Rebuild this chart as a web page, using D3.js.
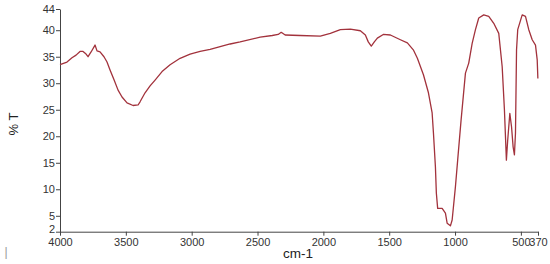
<!DOCTYPE html>
<html><head><meta charset="utf-8">
<script src="https://cdn.jsdelivr.net/npm/d3@7"></script>
<style>body{margin:0;background:#fff}svg{display:block}</style>
</head><body>
<svg id="c" width="550" height="264"></svg>
<script>
const wavenumber = [4000,3947,3909,3878,3848,3825,3802,3787,3764,3734,3719,3696,3666,3643,3620,3589,3559,3529,3491,3445,3407,3392,3354,3316,3278,3225,3164,3088,3012,2936,2860,2784,2708,2632,2480,2388,2343,2320,2290,2176,2023,1947,1871,1795,1719,1681,1659,1636,1613,1590,1545,1491,1415,1362,1317,1286,1240,1202,1174,1164,1149,1142,1132,1098,1073,1060,1035,1022,997,980,954,921,896,870,845,820,782,744,706,668,642,625,610,600,584,571,559,549,541,533,524,490,465,440,414,389,376,371];
const transmittance = [33.5,34.0,34.8,35.3,36.0,36.0,35.5,35.0,35.9,37.2,36.1,35.9,35.0,34.0,32.5,30.6,28.7,27.4,26.3,25.8,25.9,26.5,28.2,29.5,30.6,32.2,33.5,34.7,35.5,36.0,36.4,36.9,37.4,37.8,38.7,39.0,39.2,39.6,39.1,39.0,38.9,39.4,40.1,40.2,39.9,39.1,37.8,37.0,37.8,38.5,39.2,39.1,38.2,37.6,36.3,34.7,31.6,28.2,24.4,20.6,14.2,9.3,6.4,6.4,5.5,3.6,3.1,4.2,10.5,15.5,23.1,31.9,33.8,37.5,40.1,42.3,42.9,42.6,41.3,39.4,33.1,25.0,15.5,19.3,24.3,21.8,18.0,16.5,20.6,36.3,40.1,42.9,42.6,40.1,38.2,37.2,34.4,30.9];
const xTicks = [4000,3500,3000,2500,2000,1500,1000,500,370];
const yTicks = [2,5,10,15,20,25,30,35,40,44];
const xTitle = "cm-1";
const yTitle = "% T";

const svg = d3.select("#c");
const x = d3.scaleLinear().domain([4000,370]).range([60,538]);
const y = d3.scaleLinear().domain([2,44]).range([231.7,9]);
const axisColor = "#444";
const font = "Liberation Sans, Arial, sans-serif";

const gx = svg.append("g").attr("transform","translate(0,231.7)")
  .call(d3.axisBottom(x).tickValues(xTicks).tickSize(4).tickSizeOuter(0).tickPadding(2).tickFormat(d3.format("d")));
const gy = svg.append("g").attr("transform","translate(60,0)")
  .call(d3.axisLeft(y).tickValues(yTicks).tickSize(4).tickSizeOuter(0).tickPadding(1).tickFormat(d3.format("d")));
[gx,gy].forEach(g=>{
  g.selectAll("path,line").attr("stroke",axisColor).attr("stroke-width",1);
  g.selectAll("text").attr("fill","#333").style("font-family",font).style("font-size","11px");
});
gx.selectAll(".tick text").attr("dy","0.78em");
gy.selectAll(".tick").filter(d=>d===2).select("text").attr("dy","0.1em");

const line = d3.line().x((d,i)=>x(wavenumber[i])).y(d=>y(d));
svg.append("path").datum(transmittance)
  .attr("d",line).attr("fill","none").attr("stroke","#a2323c").attr("stroke-width",1.3)
  .attr("stroke-linejoin","round");

svg.append("text").attr("x",298).attr("y",258).attr("text-anchor","middle")
  .style("font-family",font).style("font-size","13.5px").attr("fill","#222").text(xTitle);
svg.append("text").attr("transform","translate(18,124) rotate(-90)").attr("text-anchor","middle")
  .style("font-family",font).style("font-size","13px").attr("fill","#222").text(yTitle);
svg.append("text").attr("x",6).attr("y",256).attr("text-anchor","middle")
  .style("font-family",font).style("font-size","12px").attr("fill","#999").text("|");
</script>
</body></html>
